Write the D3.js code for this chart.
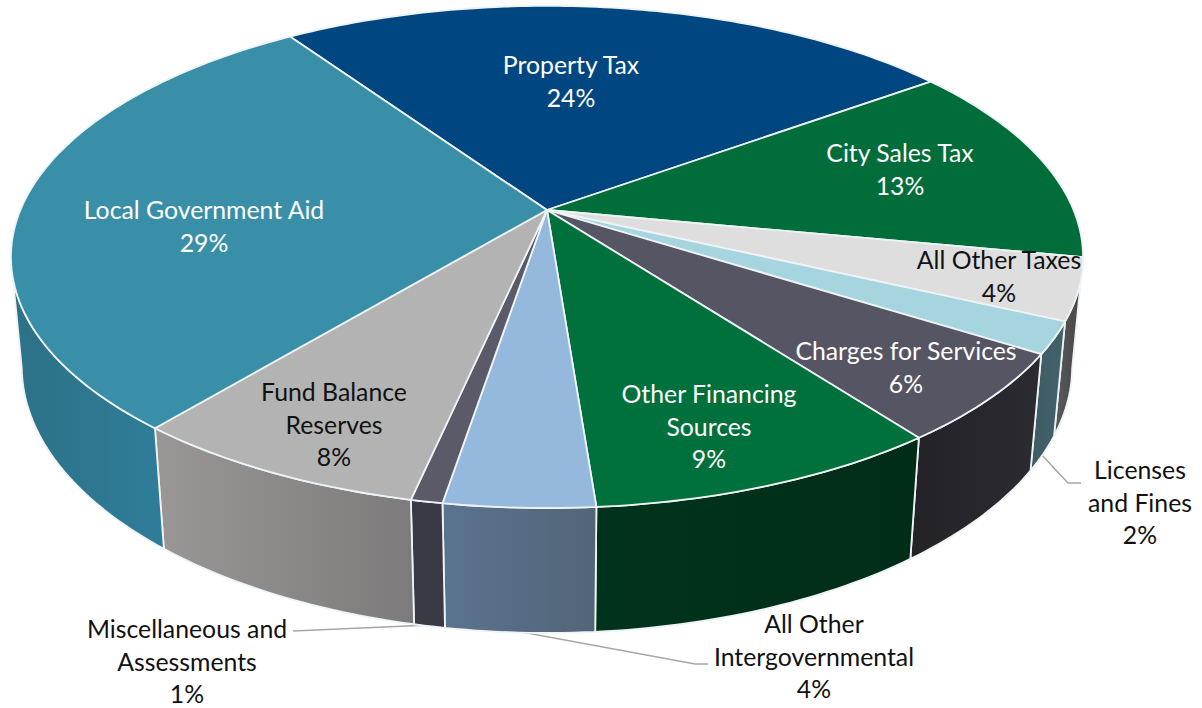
<!DOCTYPE html>
<html>
<head>
<meta charset="utf-8">
<style>
  html, body { margin: 0; padding: 0; background: #fff; }
  text { font-family: Lato, "Open Sans", sans-serif; font-size: 24.8px; text-anchor: middle; }
</style>
<script src="https://cdnjs.cloudflare.com/ajax/libs/d3/7.8.5/d3.min.js"></script>
</head>
<body>
<svg id="chart" width="1202" height="708"></svg>
<script>
'use strict';
const categories = ['Property Tax', 'City Sales Tax', 'All Other Taxes', 'Licenses and Fines',
  'Charges for Services', 'Other Financing Sources', 'All Other Intergovernmental',
  'Miscellaneous and Assessments', 'Fund Balance Reserves', 'Local Government Aid'];
/* Shares, the printed labels are rounded. */
const shares = [24.5, 13, 3.95, 2.03, 5.75, 9.03, 3.8, 0.8, 7.6, 29.45];
const percentLabels = ['24%', '13%', '4%', '2%', '6%', '9%', '4%', '1%', '8%', '29%'];

const topColors = ['#004680', '#006d3a', '#dedede', '#a6d4df', '#555564',
  '#00703c', '#95b9dc', '#5a5a69', '#b3b3b3', '#3a8fa8'];
const wallColors = [['#00345f', '#00345f'], ['#00502b', '#00502b'], ['#5c5c5c', '#4c4c4c'],
  ['#3f5c63', '#42606a'], ['#232227', '#2b2a30'], ['#00331c', '#012d18'],
  ['#5a7390', '#536577'], ['#3a3a44', '#3a3a44'], ['#9a9696', '#7c7a7a'], ['#2c7288', '#2f7d99']];
const labelColors = ['#fff', '#fff', '#111', '#111', '#fff', '#fff', '#111', '#111', '#111', '#fff'];

/* Text blocks: wrapped lines and the centre of the first line. */
const labelLines = [['Property Tax'], ['City Sales Tax'], ['All Other Taxes'], ['Licenses', 'and Fines'],
  ['Charges for Services'], ['Other Financing', 'Sources'], ['All Other', 'Intergovernmental'],
  ['Miscellaneous and', 'Assessments'], ['Fund Balance', 'Reserves'], ['Local Government Aid']];
const labelAnchors = [[571, 66], [900, 154], [999, 261], [1140, 471], [906, 352],
  [709, 395], [814, 625], [187, 630], [334, 393], [204, 211]];
const leaderLines = [
  [[1040, 453], [1068, 483], [1081, 483]],
  [[293, 631], [430, 625]],
  [[500, 628], [695, 664], [708, 664]],
];

const svg = d3.select('#chart');
const lineHeight = 32.5;

/* Perspective of the tilted disc: apex of the slices, the vertical and
 * horizontal radii, depth falloff and the height of the wall. */
const apex = {x: 547, y: 210};
const radiusX = 526.6;
const radiusY = 242.3;
const falloff = 0.187;
const wallHeight = 110;
const wallShrink = 0.02;

const project = (angle, z) => {
  const u = Math.sin(angle);
  const v = -Math.cos(angle);
  const w = 1 - falloff * v + wallShrink * z;
  return [apex.x + radiusX * u / w, apex.y + (radiusY * v + wallHeight * z) / w];
};

const toRad = (deg) => deg * Math.PI / 180;
const pie = d3.pie().sort(null)
    .startAngle(toRad(-34.3))
    .endAngle(toRad(325.7));
const arcs = pie(shares);

const sampleAngles = (a0, a1) => {
  const n = Math.max(2, Math.ceil(Math.abs(a1 - a0) / toRad(1)));
  return d3.range(n + 1).map((i) => a0 + (a1 - a0) * i / n);
};
const line = d3.line();

const defs = svg.append('defs');

/* Leader lines sit behind the disc. */
svg.append('g').selectAll('path')
    .data(leaderLines)
    .join('path')
    .attr('d', (d) => line(d))
    .attr('fill', 'none')
    .attr('stroke', '#a6a6a6')
    .attr('stroke-width', 1.5);

/* The wall only faces the viewer between these angles. */
const wallFrom = toRad(100.9);
const wallTo = toRad(259);
const walls = arcs
    .map((d, i) => ({
      i,
      a0: Math.max(d.startAngle, wallFrom),
      a1: Math.min(d.endAngle, wallTo),
    }))
    .filter((d) => d.a1 > d.a0);

walls.forEach((d) => {
  const x0 = project(d.a0, 1)[0];
  const x1 = project(d.a1, 1)[0];
  const grad = defs.append('linearGradient')
      .attr('id', `wall-${d.i}`)
      .attr('gradientUnits', 'userSpaceOnUse')
      .attr('x1', x1).attr('x2', x0)
      .attr('y1', 0).attr('y2', 0);
  grad.append('stop').attr('offset', 0).attr('stop-color', wallColors[d.i][0]);
  grad.append('stop').attr('offset', 1).attr('stop-color', wallColors[d.i][1]);
});

const wallPath = (d) => {
  const angles = sampleAngles(d.a0, d.a1);
  const pts = angles.map((a) => project(a, 0))
      .concat(angles.slice().reverse().map((a) => project(a, 1)));
  return line(pts) + 'Z';
};

svg.append('g').selectAll('path')
    .data(walls)
    .join('path')
    .attr('d', wallPath)
    .attr('fill', (d) => `url(#wall-${d.i})`)
    .attr('stroke', '#eef3f5')
    .attr('stroke-width', 1.8)
    .attr('stroke-linejoin', 'round');

const slicePath = (d) => {
  const pts = sampleAngles(d.startAngle, d.endAngle).map((a) => project(a, 0));
  return line([[apex.x, apex.y], ...pts]) + 'Z';
};

svg.append('g').selectAll('path')
    .data(arcs)
    .join('path')
    .attr('d', slicePath)
    .attr('fill', (d, i) => topColors[i])
    .attr('stroke', '#eef3f5')
    .attr('stroke-width', 1.8)
    .attr('stroke-linejoin', 'round');

const labels = svg.append('g').selectAll('text')
    .data(categories)
    .join('text')
    .attr('fill', (d, i) => labelColors[i])
    .attr('x', (d, i) => labelAnchors[i][0])
    .attr('y', (d, i) => labelAnchors[i][1] + 8);

labels.each(function(d, i) {
  const rows = labelLines[i].concat(percentLabels[i]);
  d3.select(this).selectAll('tspan')
      .data(rows)
      .join('tspan')
      .attr('x', labelAnchors[i][0])
      .attr('dy', (r, j) => (j === 0 ? 0 : lineHeight))
      .text((r) => r);
});
</script>
</body>
</html>
